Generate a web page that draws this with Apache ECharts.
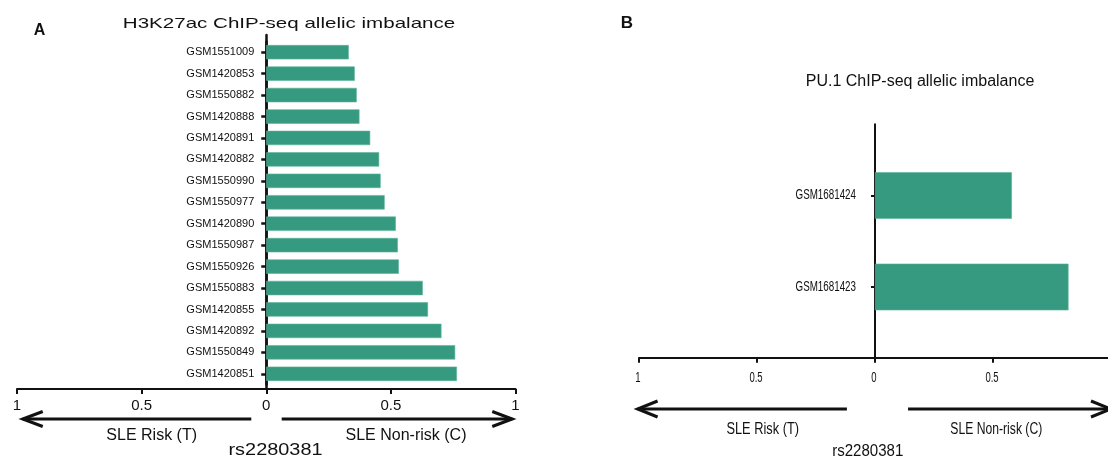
<!DOCTYPE html>
<html>
<head>
<meta charset="utf-8">
<script src="https://cdn.jsdelivr.net/npm/echarts@6/dist/echarts.min.js"></script>
<style>
  html, body { margin: 0; padding: 0; background: #fff; }
  #chart { width: 1108px; height: 457px; }
</style>
</head>
<body>
<div id="chart"></div>
<script>
// Panel A: H3K27ac ChIP-seq allelic imbalance (top to bottom)
const h3k27acSamples = [
  'GSM1551009', 'GSM1420853', 'GSM1550882', 'GSM1420888',
  'GSM1420891', 'GSM1420882', 'GSM1550990', 'GSM1550977',
  'GSM1420890', 'GSM1550987', 'GSM1550926', 'GSM1550883',
  'GSM1420855', 'GSM1420892', 'GSM1550849', 'GSM1420851'
];
const h3k27acValues = [
  0.331, 0.355, 0.363, 0.374,
  0.417, 0.453, 0.459, 0.475,
  0.520, 0.528, 0.532, 0.628,
  0.649, 0.703, 0.758, 0.765
];

// Panel B: PU.1 ChIP-seq allelic imbalance (top to bottom)
const pu1Samples = ['GSM1681424', 'GSM1681423'];
const pu1Values = [0.58, 0.82];

// Shared allele-fraction axis: left = risk allele (T), right = non-risk allele (C)
const fractionTicks = [-1, -0.5, 0, 0.5, 1];
const snpName = 'rs2280381';
const riskLabel = 'SLE Risk (T)';
const nonRiskLabel = 'SLE Non-risk (C)';
const titleA = 'H3K27ac ChIP-seq allelic imbalance';
const titleB = 'PU.1 ChIP-seq allelic imbalance';

const FONT = '"Liberation Sans", Arial, Helvetica, sans-serif';
const BAR = '#369a80';
const INK = '#111';

const chart = echarts.init(document.getElementById('chart'), null, { renderer: 'canvas' });

// Bars live on the non-risk half [0, 1]; the frame axes span [-1, 1]
const barX = (grid) => ({
  type: 'value', gridIndex: grid, min: 0, max: 1, interval: 0.5, show: false
});

chart.setOption({
  animation: false,
  backgroundColor: '#fff',
  grid: [
    // 0: panel A bars (right half)
    { left: 266.25, width: 249.25, top: 41.5, height: 343, outerBoundsMode: 'none', containLabel: false },
    // 1: panel A frame (axes)
    { left: 17, width: 498.5, top: 35, height: 354, outerBoundsMode: 'none', containLabel: false },
    // 2: panel B bars (right half)
    { left: 875, width: 236, top: 149.75, height: 183, outerBoundsMode: 'none', containLabel: false },
    // 3: panel B frame (axes)
    { left: 639, width: 472, top: 124.3, height: 233.5, outerBoundsMode: 'none', containLabel: false }
  ],
  xAxis: [
    barX(0),
    {
      type: 'value', gridIndex: 1, min: -1, max: 1, interval: 0.5,
      axisLine: { show: true, onZero: false, lineStyle: { color: INK, width: 2 } },
      axisTick: { show: true, inside: false, length: 5, lineStyle: { color: INK, width: 2 } },
      axisLabel: {
        show: true, margin: 9, fontSize: 15, fontFamily: FONT, color: INK,
        showMinLabel: true, showMaxLabel: true,
        formatter: (v) => String(Math.abs(v))
      },
      splitLine: { show: false }
    },
    barX(2),
    {
      type: 'value', gridIndex: 3, min: -1, max: 1, interval: 0.5,
      axisLine: { show: true, onZero: false, lineStyle: { color: INK, width: 2 } },
      axisTick: { show: true, inside: false, length: 5, lineStyle: { color: INK, width: 2 } },
      axisLabel: { show: false },
      splitLine: { show: false }
    }
  ],
  yAxis: [
    {
      type: 'category', gridIndex: 0, data: h3k27acSamples, inverse: true, position: 'left',
      axisLine: { show: true, onZero: false, lineStyle: { color: INK, width: 2.5 } },
      axisTick: { show: true, alignWithLabel: true, length: 5, lineStyle: { color: INK, width: 2.5 } },
      axisLabel: { show: true, margin: 12, fontSize: 11, fontFamily: FONT, color: INK },
      splitLine: { show: false }
    },
    {
      type: 'value', gridIndex: 1, min: 0, max: 1,
      axisLine: { show: true, lineStyle: { color: INK, width: 2.5 } },
      axisTick: { show: false }, axisLabel: { show: false }, splitLine: { show: false }
    },
    {
      type: 'category', gridIndex: 2, data: pu1Samples, inverse: true, position: 'left',
      axisLine: { show: true, onZero: false, lineStyle: { color: INK, width: 2 } },
      axisTick: { show: true, alignWithLabel: true, length: 4, lineStyle: { color: INK, width: 2 } },
      axisLabel: { show: false },
      splitLine: { show: false }
    },
    {
      type: 'value', gridIndex: 3, min: 0, max: 1,
      axisLine: { show: true, lineStyle: { color: INK, width: 2 } },
      axisTick: { show: false }, axisLabel: { show: false }, splitLine: { show: false }
    }
  ],
  series: [
    {
      type: 'bar', name: 'H3K27ac', xAxisIndex: 0, yAxisIndex: 0,
      data: h3k27acValues, barWidth: '67%',
      itemStyle: { color: BAR, borderColor: '#5cb49b', borderWidth: 0.6 }
    },
    {
      type: 'bar', name: 'PU.1', xAxisIndex: 2, yAxisIndex: 2,
      data: pu1Values, barWidth: '51%',
      itemStyle: { color: BAR, borderColor: '#5cb49b', borderWidth: 0.6 }
    }
  ]
});

// Annotation layer: panel letters, titles, direction arrows and captions
const xA = (v) => chart.convertToPixel({ xAxisIndex: 1 }, v);
const xB = (v) => chart.convertToPixel({ xAxisIndex: 3 }, v);
const yB = (c) => chart.convertToPixel({ yAxisIndex: 2 }, c);

function label(text, x, y, size, opts) {
  opts = opts || {};
  return {
    type: 'text', x: x, y: y, scaleX: opts.scaleX || 1, z: 10,
    style: {
      text: text, fontSize: size, fontFamily: FONT,
      fontWeight: opts.bold ? 'bold' : 'normal',
      fill: INK, align: opts.align || 'center', verticalAlign: 'middle'
    }
  };
}

function arrow(fromX, tipX, y, headLen, headHalf, width) {
  const dir = tipX < fromX ? 1 : -1;
  return [
    {
      type: 'line', z: 10,
      shape: { x1: fromX, y1: y, x2: tipX, y2: y },
      style: { stroke: INK, lineWidth: width }
    },
    {
      type: 'polyline', z: 10,
      shape: { points: [[tipX + dir * headLen, y - headHalf], [tipX, y], [tipX + dir * headLen, y + headHalf]] },
      style: { stroke: INK, lineWidth: width, fill: null }
    }
  ];
}

const graphics = [];

// Panel A
graphics.push(label('A', 39.5, 30.5, 16, { bold: true }));
graphics.push(label(titleA, 289, 24, 15, { scaleX: 1.37 }));
graphics.push(...arrow(xA(-0.06), xA(-0.977), 419, 20, 7.5, 3));
graphics.push(...arrow(xA(0.062), xA(0.987), 419, 20, 7.5, 3));
graphics.push(label(riskLabel, 151.7, 435.5, 16));
graphics.push(label(nonRiskLabel, 406, 435.5, 16));
graphics.push(label(snpName, 275.5, 450, 17, { scaleX: 1.17 }));

// Panel B
graphics.push(label('B', 627, 23, 17, { bold: true }));
graphics.push(label(titleB, 920, 82, 16));
pu1Samples.forEach((s) => {
  graphics.push(label(s, 856, yB(s), 14, { align: 'right', scaleX: 0.7 }));
});
fractionTicks.forEach((t) => {
  graphics.push(label(String(Math.abs(t)), xB(t) - 1, 378.3, 14, { scaleX: 0.68 }));
});
graphics.push(...arrow(xB(-0.119), xB(-1.006), 409, 20, 8, 3));
graphics.push(...arrow(xB(0.14), xB(1.0), 409, 20, 8, 3));
graphics.push(label(riskLabel, 762.7, 430, 16, { scaleX: 0.8 }));
graphics.push(label(nonRiskLabel, 996.3, 430, 16, { scaleX: 0.76 }));
graphics.push(label(snpName, 867.7, 451.5, 16, { scaleX: 0.94 }));

chart.setOption({ graphic: graphics });
</script>
</body>
</html>
